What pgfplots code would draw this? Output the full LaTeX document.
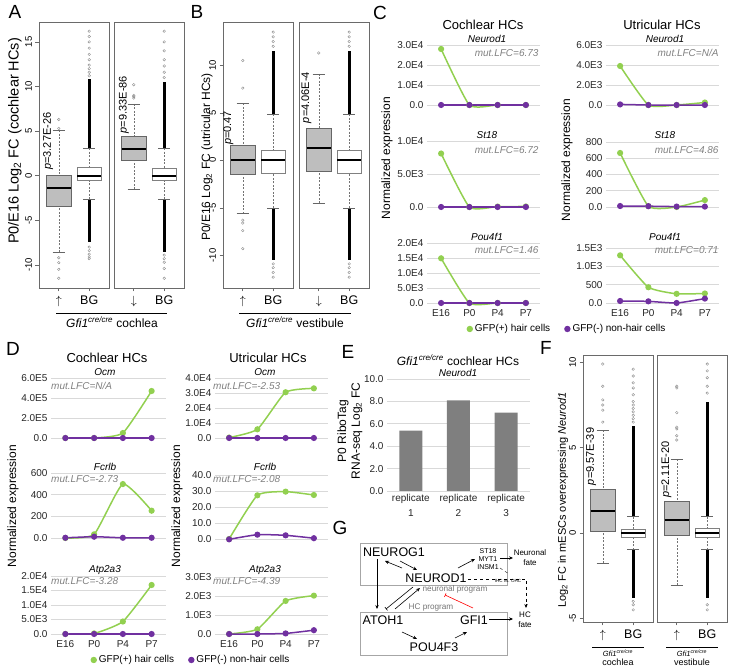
\documentclass[border=0pt]{standalone}
\usepackage{fontspec}
\setmainfont{Liberation Sans}
\usepackage{pgfplots}
\pgfplotsset{compat=1.18}
\usepgfplotslibrary{statistics}
\usetikzlibrary{arrows.meta}
\newcommand\fs[1]{\fontsize{#1}{#1}\selectfont}
\definecolor{exgreen}{HTML}{92D050}
\definecolor{expurple}{HTML}{7030A0}
\definecolor{boxfill}{HTML}{BEBEBE}
\definecolor{frame}{HTML}{6A6A6A}
\definecolor{barg}{HTML}{7F7F7F}

\pgfplotsset{
  boxplot/draw/lower whisker/.code={%
    \draw[black!55, dash pattern=on 2pt off 1.5pt, line width=0.5pt]
      (boxplot cs:\pgfplotsboxplotvalue{lower whisker}) -- (boxplot cs:\pgfplotsboxplotvalue{lower quartile});
    \draw[black!60, line width=0.6pt]
      (boxplot whisker cs:\pgfplotsboxplotvalue{lower whisker},0) -- (boxplot whisker cs:\pgfplotsboxplotvalue{lower whisker},1);
  },
  boxplot/draw/upper whisker/.code={%
    \draw[black!55, dash pattern=on 2pt off 1.5pt, line width=0.5pt]
      (boxplot cs:\pgfplotsboxplotvalue{upper whisker}) -- (boxplot cs:\pgfplotsboxplotvalue{upper quartile});
    \draw[black!60, line width=0.6pt]
      (boxplot whisker cs:\pgfplotsboxplotvalue{upper whisker},0) -- (boxplot whisker cs:\pgfplotsboxplotvalue{upper whisker},1);
  },
  bx/.style={anchor=north west, scale only axis, width=70pt, xmin=0.35, xmax=2.65, xtick={1,2},
    axis line style={draw=frame, line width=0.8pt}, tick style={draw=frame, line width=0.6pt},
    tick align=outside, major tick length=3.5pt, xtick pos=left, ytick pos=left,
    boxplot/draw direction=y,
    xticklabel style={font=\fs{12.5}, yshift=-1pt},
    yticklabel style={font=\fs{9.5}, rotate=90, anchor=south}},
  gbox/.style={draw=black!60, line width=0.6pt, mark=o, mark size=1.3pt,
    mark options={draw=black!45, line width=0.4pt, solid},
    boxplot/draw direction=y, boxplot/box extend=0.8, boxplot/whisker extend=0.4,
    boxplot/every box/.style={fill=boxfill, draw=black!60},
    boxplot/every median/.style={black, line width=1.8pt}},
  wbox/.style={gbox, boxplot/every box/.style={fill=white, draw=black!50}},
  dense/.style={black, line width=2.6pt, forget plot},
  xl/.style={anchor=north west, scale only axis, xmin=-0.5, xmax=3.5, ymin=0, clip=false,
    axis line style={draw=none}, major tick length=0pt, ymajorgrids,
    grid style={black!15, line width=0.7pt},
    xtick={0,1,2,3}, xticklabels={}, scaled y ticks=false,
    tick label style={font=\fs{10}, text=black!85}, xticklabel style={yshift=-3pt}},
  gl/.style={color=exgreen, line width=1.5pt, smooth, tension=0.3, mark=*, mark size=2.3pt},
  pl/.style={color=expurple, line width=1.5pt, smooth, tension=0.3, mark=*, mark size=2.3pt},
}

\begin{document}
\begin{tikzpicture}
\useasboundingbox (0,0) rectangle (732pt,-668pt);

% ---------------- A ----------------
\begin{axis}[bx, at={(39pt,-22pt)}, height=266pt, ymin=-12.59, ymax=17.23,
  ytick={-10,-5,0,5,10,15}, yticklabels={-10,-5,0,5,10,15}, xticklabels={$\uparrow$,BG}]
\addplot[dense] coordinates {(2,3.1) (2,10.8)};
\addplot[dense] coordinates {(2,-2.65) (2,-7.4)};
\addplot[gbox, boxplot prepared={draw position=1, median=-1.34, upper quartile=0.08,
  lower quartile=-3.4, upper whisker=5.12, lower whisker=-8.59}]
  table[row sep=\\, y index=0] {y\\ 5.3\\ 6.3\\ -9.2\\ -9.75\\ -10.5\\ -11.5\\};
\addplot[wbox, boxplot prepared={draw position=2, median=0, upper quartile=0.94,
  lower quartile=-0.55, upper whisker=3.1, lower whisker=-2.65}]
  table[row sep=\\, y index=0] {y\\ 11.2\\ 11.6\\ 12.0\\ 12.4\\ 13.0\\ 13.6\\ 14.3\\ 15.0\\ 15.6\\ 16.2\\ -8.0\\ -8.4\\ -8.8\\ -9.1\\ -9.3\\};
\node[rotate=90, anchor=west, inner sep=0pt, font=\fs{11}] at (axis cs:0.65,0.64) {\textit{p}=3.27E-26};
\end{axis}
\begin{axis}[bx, at={(114pt,-22pt)}, height=266pt, ymin=-12.59, ymax=17.23,
  ytick=\empty, xticklabels={$\downarrow$,BG}]
\addplot[dense] coordinates {(2,3.1) (2,10.5)};
\addplot[dense] coordinates {(2,-2.65) (2,-8.5)};
\addplot[gbox, boxplot prepared={draw position=1, median=3.03, upper quartile=4.37,
  lower quartile=1.76, upper whisker=8.04, lower whisker=-1.53}]
  table[row sep=\\, y index=0] {y\\ 8.7\\ 8.85\\ 9.0\\ 10.2\\};
\addplot[wbox, boxplot prepared={draw position=2, median=0, upper quartile=0.83,
  lower quartile=-0.55, upper whisker=3.1, lower whisker=-2.65}]
  table[row sep=\\, y index=0] {y\\ 11.0\\ 11.6\\ 12.3\\ 13.0\\ 14.0\\ 15.0\\ 16.2\\ -8.9\\ -9.3\\ -9.7\\ -10.4\\ -11.5\\};
\node[rotate=90, anchor=west, inner sep=0pt, font=\fs{11}] at (axis cs:0.68,4.75) {\textit{p}=9.33E-86};
\end{axis}

% ---------------- B ----------------
\begin{axis}[bx, at={(223pt,-22pt)}, height=266pt, ymin=-13.44, ymax=14.56,
  ytick={-10,-5,0,5,10}, yticklabels={-10,-5,0,5,10}, xticklabels={$\uparrow$,BG}]
\addplot[dense] coordinates {(2,4.85) (2,11.5)};
\addplot[dense] coordinates {(2,-5.0) (2,-10.5)};
\addplot[gbox, boxplot prepared={draw position=1, median=0, upper quartile=1.54,
  lower quartile=-1.44, upper whisker=6.0, lower whisker=-5.6}]
  table[row sep=\\, y index=0] {y\\ 7.6\\ 10.5\\ -6.3\\ -6.6\\ -7.4\\ -9.3\\};
\addplot[wbox, boxplot prepared={draw position=2, median=0, upper quartile=1.05,
  lower quartile=-1.37, upper whisker=4.85, lower whisker=-5.0}]
  table[row sep=\\, y index=0] {y\\ 12.0\\ 12.5\\ 13.0\\ 13.5\\ -10.9\\ -11.3\\ -11.8\\ -12.3\\};
\node[rotate=90, anchor=west, inner sep=0pt, font=\fs{11}] at (axis cs:0.53,1.6) {\textit{p}=0.47};
\end{axis}
\begin{axis}[bx, at={(299pt,-22pt)}, height=266pt, ymin=-13.44, ymax=14.56,
  ytick=\empty, xticklabels={$\downarrow$,BG}]
\addplot[dense] coordinates {(2,4.85) (2,11.5)};
\addplot[dense] coordinates {(2,-5.0) (2,-10.5)};
\addplot[gbox, boxplot prepared={draw position=1, median=1.33, upper quartile=3.37,
  lower quartile=-1.2, upper whisker=9.1, lower whisker=-4.5}]
  table[row sep=\\, y index=0] {y\\ 11.3\\};
\addplot[wbox, boxplot prepared={draw position=2, median=0, upper quartile=1.05,
  lower quartile=-1.37, upper whisker=4.85, lower whisker=-5.0}]
  table[row sep=\\, y index=0] {y\\ 12.0\\ 12.5\\ 13.0\\ 13.5\\ -10.9\\ -11.3\\ -11.8\\ -12.3\\};
\node[rotate=90, anchor=west, inner sep=0pt, font=\fs{11}] at (axis cs:0.59,3.9) {\textit{p}=4.06E-4};
\end{axis}

% ---------------- F ----------------
\begin{axis}[bx, at={(583pt,-355pt)}, height=267pt, ymin=-5.21, ymax=10.43,
  ytick={-5,0,5,10}, yticklabels={-5,0,5,10}, xticklabels={$\uparrow$,BG}]
\addplot[dense] coordinates {(2,0.96) (2,6.3)};
\addplot[dense] coordinates {(2,-0.98) (2,-3.8)};
\addplot[gbox, boxplot prepared={draw position=1, median=1.31, upper quartile=2.58,
  lower quartile=0.1, upper whisker=6.03, lower whisker=-1.78}]
  table[row sep=\\, y index=0] {y\\ 6.5\\ 7.2\\ 7.5\\ 7.8\\ 8.6\\ 9.9\\};
\addplot[wbox, boxplot prepared={draw position=2, median=0, upper quartile=0.23,
  lower quartile=-0.25, upper whisker=0.96, lower whisker=-0.98}]
  table[row sep=\\, y index=0] {y\\ 6.5\\ 6.7\\ 6.9\\ 7.1\\ 7.3\\ 7.5\\ 7.7\\ 8.1\\ 8.5\\ 8.8\\ 9.2\\ 9.6\\ -4.0\\ -4.2\\ -4.5\\};
\node[rotate=90, anchor=west, inner sep=0pt, font=\fs{11}] at (axis cs:0.62,2.8) {\textit{p}=9.57E-39};
\end{axis}
\begin{axis}[bx, at={(657pt,-355pt)}, height=267pt, ymin=-5.21, ymax=10.43,
  ytick=\empty, xticklabels={$\uparrow$,BG}]
\addplot[dense] coordinates {(2,0.96) (2,7.7)};
\addplot[dense] coordinates {(2,-0.98) (2,-3.8)};
\addplot[gbox, boxplot prepared={draw position=1, median=0.76, upper quartile=1.87,
  lower quartile=-0.14, upper whisker=4.32, lower whisker=-3.05}]
  table[row sep=\\, y index=0] {y\\ 5.45\\ 5.7\\ 6.1\\ 6.2\\ 7.05\\ 8.5\\ 8.6\\};
\addplot[wbox, boxplot prepared={draw position=2, median=0, upper quartile=0.25,
  lower quartile=-0.25, upper whisker=0.96, lower whisker=-0.98}]
  table[row sep=\\, y index=0] {y\\ 8.2\\ 8.6\\ 9.1\\ 9.5\\ 9.9\\ -4.2\\ -4.5\\};
\node[rotate=90, anchor=west, inner sep=0pt, font=\fs{11}] at (axis cs:0.66,2.05) {\textit{p}=2.11E-20};
\end{axis}

% ---------------- C ----------------
\begin{axis}[xl, at={(427pt,-45pt)}, width=113pt, height=60pt, ymax=30000,
  ytick={0,10000,20000,30000}, yticklabels={0.0,1.0E4,2.0E4,3.0E4}]
\addplot[gl] coordinates {(0,28000) (1,0) (2,0) (3,0)};
\addplot[pl] coordinates {(0,0) (1,0) (2,0) (3,0)};
\end{axis}
\begin{axis}[xl, at={(427pt,-141pt)}, width=113pt, height=66pt, ymax=10000,
  ytick={0,5000,10000}, yticklabels={0.0,5.0E3,1.0E4}]
\addplot[gl] coordinates {(0,8100) (1,0) (2,60) (3,80)};
\addplot[pl] coordinates {(0,0) (1,0) (2,0) (3,0)};
\end{axis}
\begin{axis}[xl, at={(427pt,-243pt)}, width=113pt, height=60pt, ymax=20000,
  ytick={0,5000,10000,15000,20000}, yticklabels={0.0,5.0E3,1.0E4,1.5E4,2.0E4},
  xticklabels={E16,P0,P4,P7},
  legend style={at={(1.239,-0.433)}, anchor=center, draw=none, fill=none, legend columns=2,
    font=\fs{10}, /tikz/every even column/.append style={column sep=12pt}},
  legend image code/.code={\fill[#1] (0.1cm,0cm) circle (2.4pt);}]
\addplot[gl] coordinates {(0,14900) (1,0) (2,0) (3,0)};
\addplot[pl] coordinates {(0,0) (1,0) (2,0) (3,0)};
\legend{GFP(+) hair cells, GFP(-) non-hair cells}
\end{axis}
\begin{axis}[xl, at={(606pt,-45pt)}, width=113pt, height=60pt, ymax=6000,
  ytick={0,2000,4000,6000}, yticklabels={0.0,2.0E3,4.0E3,6.0E3}]
\addplot[gl] coordinates {(0,3900) (1,0) (2,0) (3,250)};
\addplot[pl] coordinates {(0,60) (1,0) (2,0) (3,0)};
\end{axis}
\begin{axis}[xl, at={(606pt,-142pt)}, width=113pt, height=65pt, ymax=800,
  ytick={0,200,400,600,800}, yticklabels={0.0,200,400,600,800}]
\addplot[gl] coordinates {(0,665) (1,10) (2,0) (3,85)};
\addplot[pl] coordinates {(0,12) (1,10) (2,5) (3,5)};
\end{axis}
\begin{axis}[xl, at={(606pt,-248pt)}, width=113pt, height=55pt, ymax=1500,
  ytick={0,500,1000,1500}, yticklabels={0.0,500,1.0E3,1.5E3}, xticklabels={E16,P0,P4,P7}]
\addplot[gl] coordinates {(0,1300) (1,430) (2,250) (3,260)};
\addplot[pl] coordinates {(0,55) (1,45) (2,0) (3,120)};
\end{axis}

% ---------------- D ----------------
\begin{axis}[xl, at={(51pt,-378pt)}, width=115pt, height=60pt, ymax=600000,
  ytick={0,200000,400000,600000}, yticklabels={0.0,2.0E5,4.0E5,6.0E5}]
\addplot[gl] coordinates {(0,0) (1,0) (2,50000) (3,470000)};
\addplot[pl] coordinates {(0,0) (1,0) (2,0) (3,0)};
\end{axis}
\begin{axis}[xl, at={(51pt,-473pt)}, width=115pt, height=65pt, ymax=600,
  ytick={0,200,400,600}, yticklabels={0.0,200,400,600}]
\addplot[gl] coordinates {(0,0) (1,34) (2,498) (3,252)};
\addplot[pl] coordinates {(0,2) (1,12) (2,2) (3,2)};
\end{axis}
\begin{axis}[xl, at={(51pt,-576pt)}, width=115pt, height=58pt, ymax=20000,
  ytick={0,5000,10000,15000,20000}, yticklabels={0.0,5.0E3,1.0E4,1.5E4,2.0E4},
  xticklabels={E16,P0,P4,P7},
  legend style={at={(1.217,-0.448)}, anchor=center, draw=none, fill=none, legend columns=2,
    font=\fs{10}, /tikz/every even column/.append style={column sep=12pt}},
  legend image code/.code={\fill[#1] (0.1cm,0cm) circle (2.4pt);}]
\addplot[gl] coordinates {(0,0) (1,200) (2,4300) (3,16900)};
\addplot[pl] coordinates {(0,0) (1,0) (2,0) (3,0)};
\legend{GFP(+) hair cells, GFP(-) non-hair cells}
\end{axis}
\begin{axis}[xl, at={(215pt,-378pt)}, width=113pt, height=60pt, ymax=40000,
  ytick={0,10000,20000,30000,40000}, yticklabels={0.0,1.0E4,2.0E4,3.0E4,4.0E4}]
\addplot[gl] coordinates {(0,300) (1,5800) (2,30500) (3,33100)};
\addplot[pl] coordinates {(0,0) (1,0) (2,0) (3,0)};
\end{axis}
\begin{axis}[xl, at={(215pt,-475pt)}, width=113pt, height=64pt, ymax=40,
  ytick={0,10,20,30,40}, yticklabels={0.0,10.0,20.0,30.0,40.0}]
\addplot[gl] coordinates {(0,0) (1,27.3) (2,29.6) (3,27.5)};
\addplot[pl] coordinates {(0,-0.2) (1,2.7) (2,2.3) (3,0.5)};
\end{axis}
\begin{axis}[xl, at={(215pt,-577pt)}, width=113pt, height=57pt, ymax=3000,
  ytick={0,1000,2000,3000}, yticklabels={0.0,1.0E3,2.0E3,3.0E3}, xticklabels={E16,P0,P4,P7}]
\addplot[gl] coordinates {(0,0) (1,250) (2,1740) (3,2020)};
\addplot[pl] coordinates {(0,0) (1,0) (2,30) (3,200)};
\end{axis}

% ---------------- E ----------------
\begin{axis}[anchor=north west, at={(387pt,-379pt)}, scale only axis, width=143pt, height=112pt,
  xmin=0.5, xmax=3.5, ymin=0, ymax=10, clip=false, axis line style={draw=none},
  major tick length=0pt, ymajorgrids, grid style={black!15, line width=0.7pt},
  ytick={0,2,4,6,8,10}, yticklabels={0.0,2.0,4.0,6.0,8.0,10.0},
  xtick={1,2,3}, xticklabels={replicate\\1,replicate\\2,replicate\\3},
  xticklabel style={align=center, font=\fontsize{10}{15}\selectfont},
  yticklabel style={font=\fs{10}}, tick label style={text=black!85}]
\addplot[ybar, bar width=23pt, fill=barg, draw=none] coordinates {(1,5.4) (2,8.1) (3,7.0)};
\end{axis}

% ---------------- text & diagram ----------------
\begin{scope}[x=1pt, y=-1pt]
\foreach \l/\x/\y in {A/15/12, B/197/12, C/380/13, D/13/349, E/348/352, F/546/348, G/340/528}
  \node[font=\fs{19}] at (\x,\y) {\l};

% A, B labels
\node[rotate=90, font=\fs{14.5}] at (15,141) {P0/E16 Log\textsubscript{2} FC (cochlear HCs)};
\node[rotate=90, font=\fs{12}] at (207,157) {P0/E16 Log\textsubscript{2} FC (utricular HCs)};
\draw[line width=0.6pt] (56,313.3) -- (167,313.3);
\draw[line width=0.6pt] (239,313.3) -- (351,313.3);
\node[font=\fs{12}] at (112,322) {\textit{Gfi1}\textsuperscript{\textit{cre/cre}} cochlea};
\node[font=\fs{12}] at (295,322) {\textit{Gfi1}\textsuperscript{\textit{cre/cre}} vestibule};

% F labels
\node[rotate=90, font=\fs{11}] at (563,500) {Log\textsubscript{2} FC in mESCs overexpressing \textit{Neurod1}};
\draw[line width=0.5pt] (592,647) -- (644,647);
\draw[line width=0.5pt] (666,647) -- (718,647);
\node[font=\fs{7.5}] at (618,653) {\textit{Gfi1}\textsuperscript{\textit{cre/cre}}};
\node[font=\fs{9}] at (618,662) {cochlea};
\node[font=\fs{7.5}] at (692,653) {\textit{Gfi1}\textsuperscript{\textit{cre/cre}}};
\node[font=\fs{9}] at (692,662) {vestibule};

% C labels
\node[font=\fs{13}] at (483,25) {Cochlear HCs};
\node[font=\fs{13}] at (662,25) {Utricular HCs};
\node[rotate=90, font=\fs{12}] at (387,158) {Normalized expression};
\node[rotate=90, font=\fs{12}] at (567,160) {Normalized expression};
\foreach \g/\y in {Neurod1/39, St18/135, Pou4f1/237} {
  \node[font=\fs{10}\itshape] at (487,\y) {\g};
  \node[font=\fs{10}\itshape] at (665,\y) {\g};
}
\node[font=\fs{10}\itshape, text=black!50, anchor=east] at (542,53) {mut.LFC=6.73};
\node[font=\fs{10}\itshape, text=black!50, anchor=east] at (542,150) {mut.LFC=6.72};
\node[font=\fs{10}\itshape, text=black!50, anchor=east] at (542,250) {mut.LFC=1.46};
\node[font=\fs{10}\itshape, text=black!50, anchor=east] at (722,53) {mut.LFC=N/A};
\node[font=\fs{10}\itshape, text=black!50, anchor=east] at (722,150) {mut.LFC=4.86};
\node[font=\fs{10}\itshape, text=black!50, anchor=east] at (722,250) {mut.LFC=0.71};

% D labels
\node[font=\fs{13}] at (107,358) {Cochlear HCs};
\node[font=\fs{13}] at (268,358) {Utricular HCs};
\node[rotate=90, font=\fs{12}] at (13,506) {Normalized expression};
\node[rotate=90, font=\fs{12}] at (177,506) {Normalized expression};
\foreach \g/\y in {Ocm/372, Fcrlb/467, Atp2a3/570} {
  \node[font=\fs{10}\itshape] at (105,\y) {\g};
  \node[font=\fs{10}\itshape] at (265,\y) {\g};
}
\node[font=\fs{10}\itshape, text=black!50, anchor=west, inner sep=0pt] at (51,386) {mut.LFC=N/A};
\node[font=\fs{10}\itshape, text=black!50, anchor=west, inner sep=0pt] at (51,479) {mut.LFC=-2.73};
\node[font=\fs{10}\itshape, text=black!50, anchor=west, inner sep=0pt] at (51,581) {mut.LFC=-3.28};
\node[font=\fs{10}\itshape, text=black!50, anchor=west, inner sep=0pt] at (213,386) {mut.LFC=-2.53};
\node[font=\fs{10}\itshape, text=black!50, anchor=west, inner sep=0pt] at (213,479) {mut.LFC=-2.08};
\node[font=\fs{10}\itshape, text=black!50, anchor=west, inner sep=0pt] at (213,581) {mut.LFC=-4.39};

% E labels
\node[font=\fs{12}] at (458,360) {\textit{Gfi1}\textsuperscript{\textit{cre/cre}} cochlear HCs};
\node[font=\fs{10}\itshape] at (458,373) {Neurod1};
\node[rotate=90, font=\fs{12}] at (343,431) {P0 RiboTag};
\node[rotate=90, font=\fs{12}] at (357,431) {RNA-seq Log\textsubscript{2} FC};

% G diagram
\draw[black!35, line width=0.7pt] (360,543) rectangle (507,585);
\draw[black!35, line width=0.7pt] (360,612) rectangle (507,655);
\node[font=\fs{12.5}] at (394,552) {NEUROG1};
\node[font=\fs{12.5}] at (436,578) {NEUROD1};
\node[font=\fs{12.5}] at (383,620) {ATOH1};
\node[font=\fs{12.5}] at (474,620) {GFI1};
\node[font=\fs{12.5}] at (434,647) {POU4F3};
\node[font=\fs{7}] at (488,551) {ST18};
\node[font=\fs{7}] at (488,559) {MYT1};
\node[font=\fs{7}] at (488,567) {INSM1};
\node[font=\fs{8}] at (530,553) {Neuronal};
\node[font=\fs{8}] at (530,563) {fate};
\node[font=\fs{8}] at (525,615) {HC};
\node[font=\fs{8}] at (525,625) {fate};
\node[font=\fs{8.2}, text=black!55] at (455,589) {neuronal program};
\node[font=\fs{8.2}, text=black!55] at (431,607) {HC program};
\node[font=\fs{4.5}] at (508,581) {IHC vs. OHC};
\begin{scope}[line width=0.6pt, >={Stealth[length=4pt, width=3.4pt]}]
\draw[->] (377,559) -- (377,609);
\draw[->] (400,561) -- (417,570);
\draw[->] (402,568) -- (385,561);
\draw[->] (458,568) -- (475,559);
\draw[->] (500,558) -- (513,558);
\draw[dashed] (468,579) -- (526,579) -- (526,604);
\draw[->] (526,604) -- (526,608);
\draw[dashed, line width=0.4pt] (500,568) -- (509,574);
\draw[-{Bar[width=4pt]}] (413,587) -- (386,609);
\draw[->] (395,609) -- (420,588);
\draw[red, -{Bar[width=4pt]}] (473,608) -- (445,595);
\draw[->] (402,632) -- (417,639);
\draw[->] (455,638) -- (467,632);
\draw[->] (489,619) -- (513,619);
\end{scope}
\end{scope}
\end{tikzpicture}
\end{document}
